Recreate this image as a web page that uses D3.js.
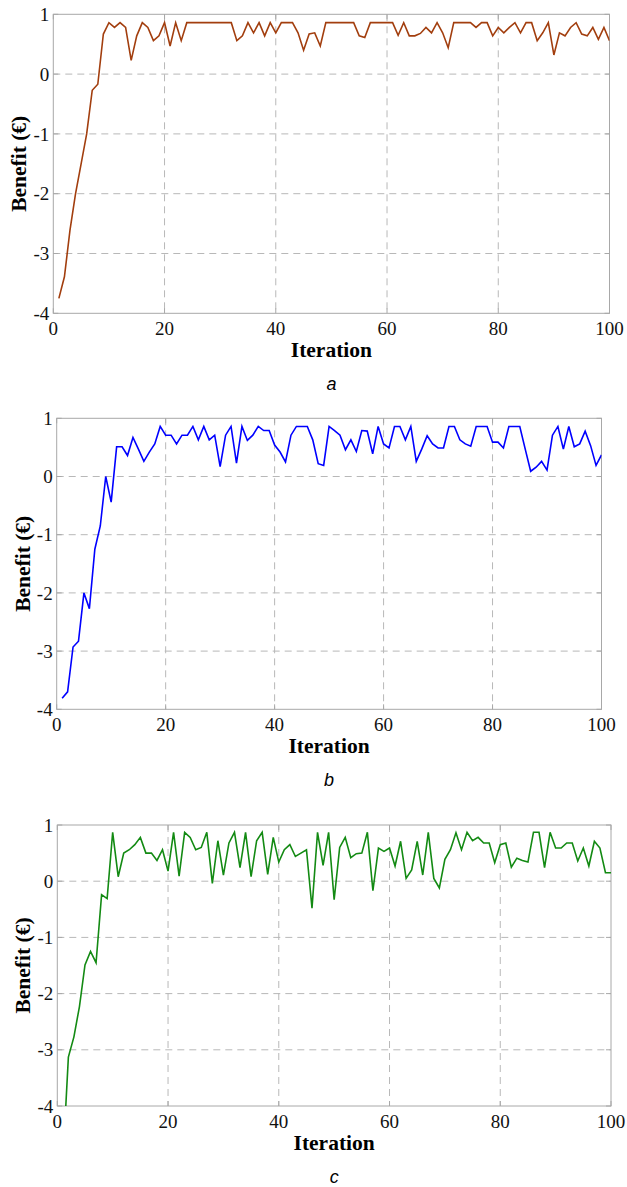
<!DOCTYPE html>
<html>
<head>
<meta charset="utf-8">
<script src="https://cdn.jsdelivr.net/npm/d3@7"></script>
<style>
  html, body { margin: 0; padding: 0; background: #fff; }
  svg { display: block; }
</style>
</head>
<body>
<svg id="chart" width="627" height="1187"></svg>
<script>
// ---------- data ----------
const iterations = d3.range(1, 101);
const xTicks = [0, 20, 40, 60, 80, 100];
const yTicks = [-4, -3, -2, -1, 0, 1];
const panelLabels = ["a", "b", "c"];
const xTitle = "Iteration";
const yTitle = "Benefit (€)";

const seriesA = [
  -3.75,-3.39,-2.61,-2.0,-1.5,-1.0,-0.27,-0.17,0.67,0.86,
  0.78,0.86,0.78,0.23,0.64,0.86,0.78,0.56,0.64,0.86,
  0.47,0.86,0.56,0.86,0.86,0.86,0.86,0.86,0.86,0.86,
  0.86,0.86,0.56,0.64,0.86,0.69,0.86,0.64,0.86,0.69,
  0.86,0.86,0.86,0.69,0.40,0.67,0.69,0.47,0.86,0.86,
  0.86,0.86,0.86,0.86,0.64,0.61,0.86,0.86,0.86,0.86,
  0.86,0.65,0.86,0.64,0.64,0.68,0.78,0.69,0.86,0.69,
  0.44,0.86,0.86,0.86,0.86,0.78,0.86,0.86,0.64,0.78,
  0.69,0.78,0.86,0.69,0.86,0.86,0.56,0.69,0.86,0.32,
  0.69,0.64,0.78,0.86,0.67,0.64,0.78,0.58,0.78,0.56
];
const seriesB = [
  -3.81,-3.70,-2.93,-2.83,-2.0,-2.27,-1.25,-0.85,0.0,-0.44,
  0.51,0.51,0.36,0.67,0.47,0.26,0.42,0.56,0.86,0.71,
  0.71,0.56,0.71,0.71,0.86,0.63,0.86,0.63,0.71,0.17,
  0.71,0.86,0.23,0.86,0.62,0.71,0.86,0.79,0.79,0.54,
  0.42,0.25,0.71,0.86,0.86,0.86,0.63,0.22,0.19,0.86,
  0.79,0.71,0.46,0.63,0.43,0.79,0.78,0.39,0.86,0.56,
  0.49,0.86,0.86,0.63,0.86,0.26,0.47,0.70,0.56,0.49,
  0.49,0.86,0.86,0.63,0.56,0.52,0.86,0.86,0.86,0.59,
  0.59,0.49,0.86,0.86,0.86,0.47,0.09,0.16,0.26,0.11,
  0.71,0.86,0.47,0.86,0.51,0.56,0.78,0.53,0.19,0.37
];
const seriesC = [
  -5.0,-3.13,-2.77,-2.23,-1.49,-1.25,-1.45,-0.24,-0.31,0.87,
  0.08,0.50,0.56,0.65,0.78,0.50,0.50,0.37,0.56,0.18,
  0.87,0.09,0.87,0.78,0.56,0.60,0.87,-0.04,0.72,0.11,
  0.68,0.87,0.24,0.87,0.08,0.72,0.87,0.12,0.78,0.34,
  0.56,0.65,0.44,0.50,0.56,-0.48,0.87,0.28,0.87,-0.33,
  0.60,0.78,0.42,0.49,0.50,0.87,-0.17,0.59,0.53,0.59,
  0.27,0.71,0.05,0.20,0.71,0.11,0.87,0.05,-0.12,0.39,
  0.56,0.86,0.56,0.87,0.72,0.78,0.68,0.68,0.33,0.65,
  0.68,0.25,0.41,0.37,0.34,0.87,0.87,0.24,0.87,0.59,
  0.59,0.68,0.68,0.36,0.59,0.27,0.71,0.59,0.15,0.15
];
const seriesList = [seriesA, seriesB, seriesC];

// ---------- layout ----------
const colors = ["#a23e0e", "#0000ff", "#138a13"];
const panels = [
  { left: 53.3, right: 609.5, top: 14.3, bottom: 313.3 },
  { left: 56.7, right: 601.5, top: 418.3, bottom: 709.3 },
  { left: 57.3, right: 611.0, top: 825.0, bottom: 1106.0 }
];

const svg = d3.select("#chart");
const serif = "'Liberation Serif', 'Times New Roman', serif";
const sans = "'Liberation Sans', Arial, sans-serif";

panels.forEach((p, k) => {
  const x = d3.scaleLinear().domain([0, 100]).range([p.left, p.right]);
  const y = d3.scaleLinear().domain([-4, 1]).range([p.bottom, p.top]);
  const g = svg.append("g");

  // grid
  g.append("g").selectAll("line.gx")
    .data(xTicks.filter(t => t > 0 && t < 100)).join("line")
    .attr("x1", d => x(d)).attr("x2", d => x(d))
    .attr("y1", p.top).attr("y2", p.bottom)
    .attr("stroke", "#b8b8b8").attr("stroke-width", 1)
    .attr("stroke-dasharray", "7,5");
  g.append("g").selectAll("line.gy")
    .data(yTicks.filter(t => t > -4 && t < 1)).join("line")
    .attr("x1", p.left).attr("x2", p.right)
    .attr("y1", d => y(d)).attr("y2", d => y(d))
    .attr("stroke", "#b8b8b8").attr("stroke-width", 1)
    .attr("stroke-dasharray", "7,5");

  // inner ticks
  const tl = 5;
  const tk = g.append("g").attr("stroke", "#a8a8a8").attr("stroke-width", 1);
  xTicks.forEach(t => {
    tk.append("line").attr("x1", x(t)).attr("x2", x(t)).attr("y1", p.bottom).attr("y2", p.bottom - tl);
    tk.append("line").attr("x1", x(t)).attr("x2", x(t)).attr("y1", p.top).attr("y2", p.top + tl);
  });
  yTicks.forEach(t => {
    tk.append("line").attr("x1", p.left).attr("x2", p.left + tl).attr("y1", y(t)).attr("y2", y(t));
    tk.append("line").attr("x1", p.right).attr("x2", p.right - tl).attr("y1", y(t)).attr("y2", y(t));
  });

  // frame
  g.append("rect")
    .attr("x", p.left).attr("y", p.top)
    .attr("width", p.right - p.left).attr("height", p.bottom - p.top)
    .attr("fill", "none").attr("stroke", "#a8a8a8").attr("stroke-width", 1);

  // clip
  const clipId = "clip" + k;
  svg.append("clipPath").attr("id", clipId)
    .append("rect")
    .attr("x", p.left).attr("y", p.top)
    .attr("width", p.right - p.left).attr("height", p.bottom - p.top);

  // series line
  const data = iterations.map((it, i) => [it, seriesList[k][i]]);
  g.append("path")
    .datum(data)
    .attr("clip-path", `url(#${clipId})`)
    .attr("fill", "none")
    .attr("stroke", colors[k])
    .attr("stroke-width", 1.6)
    .attr("stroke-linejoin", "miter")
    .attr("d", d3.line().x(d => x(d[0])).y(d => y(d[1])));

  // tick labels
  g.append("g").selectAll("text")
    .data(xTicks).join("text")
    .attr("x", d => x(d)).attr("y", p.bottom + 22)
    .attr("text-anchor", "middle")
    .attr("font-family", serif).attr("font-size", 19).attr("fill", "#111")
    .text(d => d);
  g.append("g").selectAll("text")
    .data(yTicks).join("text")
    .attr("x", p.left - 4).attr("y", d => y(d))
    .attr("dy", "0.35em")
    .attr("text-anchor", "end")
    .attr("font-family", serif).attr("font-size", 19).attr("fill", "#111")
    .text(d => d);

  // axis titles
  g.append("text")
    .attr("x", (p.left + p.right) / 2).attr("y", p.bottom + 44)
    .attr("text-anchor", "middle")
    .attr("font-family", serif).attr("font-size", 21.5).attr("font-weight", "bold")
    .attr("fill", "#000")
    .text(xTitle);
  g.append("text")
    .attr("transform", `translate(${p.left - 27},${(p.top + p.bottom) / 2}) rotate(-90)`)
    .attr("text-anchor", "middle")
    .attr("font-family", serif).attr("font-size", 21.5).attr("font-weight", "bold")
    .attr("fill", "#000")
    .text(yTitle);

  // panel label
  g.append("text")
    .attr("x", (p.left + p.right) / 2).attr("y", p.bottom + 77)
    .attr("text-anchor", "middle")
    .attr("font-family", sans).attr("font-size", 18).attr("font-style", "italic")
    .attr("fill", "#000")
    .text(panelLabels[k]);
});
</script>
</body>
</html>
